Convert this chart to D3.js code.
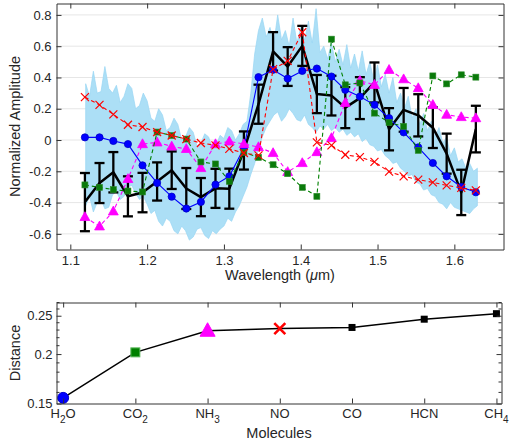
<!DOCTYPE html>
<html>
<head>
<meta charset="utf-8">
<script src="https://cdn.jsdelivr.net/npm/d3@7"></script>
<style>
  html, body { margin: 0; padding: 0; background: #fff; }
  svg { display: block; font-family: "Liberation Sans", Arial, Helvetica, sans-serif; }
</style>
</head>
<body>
<svg id="chart" width="510" height="443"></svg>
<script>
// ---- Spectrum data (top panel) ----
const wavelength = [1.119, 1.138, 1.156, 1.175, 1.194, 1.213, 1.232, 1.251, 1.270, 1.289,
  1.307, 1.326, 1.345, 1.364, 1.383, 1.402, 1.421, 1.440, 1.458, 1.477,
  1.496, 1.515, 1.534, 1.553, 1.572, 1.590, 1.609, 1.628];

const observed = [-0.397, -0.275, -0.206, -0.360, -0.336, -0.265, -0.193, -0.310, -0.365, -0.309,
  -0.311, -0.067, 0.229, 0.567, 0.470, 0.602, 0.294, 0.284, 0.207, 0.268,
  0.368, 0.069, 0.193, 0.158, 0.079, -0.087, -0.335, 0.070];
const observedErr = [0.186, 0.128, 0.129, 0.128, 0.126, 0.122, 0.120, 0.131, 0.122, 0.125,
  0.128, 0.122, 0.125, 0.123, 0.124, 0.128, 0.122, 0.127, 0.131, 0.134,
  0.128, 0.135, 0.140, 0.135, 0.130, 0.128, 0.145, 0.149];

const modelH2O = [0.017, 0.017, -0.006, -0.026, -0.162, -0.274, -0.362, -0.438, -0.396, -0.285,
  -0.232, -0.051, 0.402, 0.449, 0.393, 0.442, 0.457, 0.406, 0.321, 0.278,
  0.225, 0.140, 0.049, -0.047, -0.147, -0.232, -0.300, -0.334];
const modelNO = [0.274, 0.225, 0.164, 0.098, 0.083, 0.051, 0.029, 0.006, -0.019, -0.034,
  -0.057, -0.083, -0.098, 0.453, 0.506, 0.689, -0.015, -0.034, -0.094, -0.109,
  -0.140, -0.202, -0.232, -0.253, -0.271, -0.290, -0.306, -0.322];
const modelCO2 = [-0.287, -0.303, -0.317, -0.326, -0.332, 0.051, 0.029, 0.006, -0.140, -0.153,
  -0.264, -0.079, -0.111, -0.158, -0.215, -0.303, -0.360, 0.645, 0.353, 0.365,
  0.172, 0.112, 0.087, -0.066, 0.410, 0.359, 0.417, 0.402];
const modelNH3 = [-0.492, -0.552, -0.456, -0.249, -0.026, -0.015, -0.041, -0.057, -0.179, -0.026,
  -0.009, -0.026, -0.045, -0.083, -0.204, -0.147, -0.077, 0.013, 0.238, 0.379,
  0.353, 0.449, 0.389, 0.332, 0.225, 0.162, 0.147, 0.140];

// High-resolution spectrum envelope (upper / lower excursion at each sample)
const specWave = [1.120, 1.125, 1.130, 1.135, 1.140, 1.145, 1.150, 1.155, 1.160, 1.165,
  1.170, 1.175, 1.180, 1.185, 1.190, 1.195, 1.200, 1.205, 1.210, 1.215,
  1.220, 1.225, 1.230, 1.235, 1.240, 1.245, 1.250, 1.255, 1.260, 1.265,
  1.270, 1.275, 1.280, 1.285, 1.290, 1.295, 1.300, 1.305, 1.310, 1.315,
  1.320, 1.325, 1.330, 1.335, 1.340, 1.345, 1.350, 1.355, 1.360, 1.365,
  1.370, 1.375, 1.380, 1.385, 1.390, 1.395, 1.400, 1.405, 1.410, 1.415,
  1.420, 1.425, 1.430, 1.435, 1.440, 1.445, 1.450, 1.455, 1.460, 1.465,
  1.470, 1.475, 1.480, 1.485, 1.490, 1.495, 1.500, 1.505, 1.510, 1.515,
  1.520, 1.525, 1.530, 1.535, 1.540, 1.545, 1.550, 1.555, 1.560, 1.565,
  1.570, 1.575, 1.580, 1.585, 1.590, 1.595, 1.600, 1.605, 1.610, 1.615,
  1.620, 1.625, 1.630];
const specUpper = [0.36, 0.28, 0.44, 0.30, 0.31, 0.47, 0.33, 0.30, 0.35, 0.24,
  0.28, 0.36, 0.33, 0.20, 0.22, 0.30, 0.25, 0.14, 0.12, 0.20,
  0.16, 0.06, 0.08, 0.14, 0.10, 0.00, 0.02, 0.08, 0.05, -0.04,
  -0.02, 0.04, 0.02, -0.05, -0.03, 0.03, 0.01, 0.08, 0.06, 0.00,
  0.04, 0.10, 0.12, 0.30, 0.55, 0.70, 0.78, 0.66, 0.72, 0.62,
  0.80, 0.64, 0.70, 0.60, 0.78, 0.62, 0.72, 0.64, 0.76, 0.62,
  0.84, 0.56, 0.60, 0.52, 0.62, 0.50, 0.58, 0.48, 0.61, 0.46,
  0.55, 0.44, 0.57, 0.42, 0.50, 0.38, 0.48, 0.34, 0.42, 0.30,
  0.40, 0.24, 0.30, 0.20, 0.28, 0.14, 0.20, 0.10, 0.17, 0.06,
  0.12, 0.02, 0.08, -0.02, 0.02, -0.10, -0.05, -0.14, -0.12, -0.18,
  -0.15, -0.20, -0.18];
const specLower = [-0.42, -0.36, -0.46, -0.40, -0.38, -0.44, -0.43, -0.35, -0.33, -0.38,
  -0.36, -0.30, -0.29, -0.34, -0.38, -0.36, -0.41, -0.47, -0.45, -0.52,
  -0.55, -0.50, -0.52, -0.58, -0.60, -0.55, -0.58, -0.64, -0.62, -0.57,
  -0.56, -0.61, -0.63, -0.58, -0.60, -0.57, -0.55, -0.50, -0.52, -0.46,
  -0.42, -0.36, -0.30, -0.22, -0.15, -0.06, 0.02, 0.08, 0.12, 0.16,
  0.18, 0.12, 0.15, 0.20, 0.17, 0.13, 0.12, 0.16, 0.10, 0.08,
  0.05, 0.09, 0.07, 0.10, 0.06, 0.08, 0.05, 0.07, 0.03, 0.05,
  0.02, 0.04, -0.01, 0.01, -0.03, -0.04, -0.07, -0.06, -0.10, -0.12,
  -0.15, -0.14, -0.18, -0.20, -0.23, -0.22, -0.27, -0.28, -0.32, -0.31,
  -0.35, -0.36, -0.40, -0.41, -0.44, -0.40, -0.43, -0.44, -0.45, -0.46,
  -0.47, -0.44, -0.42];

const xTicksTop = [1.1, 1.2, 1.3, 1.4, 1.5, 1.6];
const yTicksTop = [-0.6, -0.4, -0.2, 0, 0.2, 0.4, 0.6, 0.8];

// ---- Distance data (bottom panel) ----
const molecules = ["H2O", "CO2", "NH3", "NO", "CO", "HCN", "CH4"];
const distance = [0.155, 0.202, 0.229, 0.232, 0.2335, 0.245, 0.253];
const yTicksBottom = [0.15, 0.2, 0.25];
const yMinorBottom = [0.16, 0.17, 0.18, 0.19, 0.21, 0.22, 0.23, 0.24, 0.26, 0.27];

// ---------------------------------------------------------------
const svg = d3.select("#chart");
const axisColor = "#333";
const textColor = "#262626";
const tickFont = 13;
const labelFont = 14.5;

// ================= TOP PANEL =================
const boxT = { left: 56.5, right: 503.5, top: 3.5, bottom: 249.5 };
const xT = d3.scaleLinear().domain([1.082, 1.664]).range([boxT.left, boxT.right]);
const yT = d3.scaleLinear().domain([-0.7, 0.873]).range([boxT.bottom, boxT.top]);

const gTop = svg.append("g");

// horizontal grid
gTop.append("g").selectAll("line").data(yTicksTop).join("line")
  .attr("x1", boxT.left).attr("x2", boxT.right)
  .attr("y1", d => yT(d)).attr("y2", d => yT(d))
  .attr("stroke", "#e6e6e6").attr("stroke-width", 1);

// spectrum envelope
const specData = specWave.map((w, i) => ({ w, hi: specUpper[i], lo: specLower[i] }));
gTop.append("path").datum(specData)
  .attr("d", d3.area().x(d => xT(d.w)).y0(d => yT(d.lo)).y1(d => yT(d.hi)))
  .attr("fill", "#acdff6").attr("stroke", "#98d6f3").attr("stroke-width", 0.7);

const lineGen = vals => d3.line().x((d, i) => xT(wavelength[i])).y(d => yT(d))(vals);

// observed with error bars
const gObs = gTop.append("g");
gObs.selectAll("line.eb").data(observed).join("line")
  .attr("x1", (d, i) => xT(wavelength[i])).attr("x2", (d, i) => xT(wavelength[i]))
  .attr("y1", (d, i) => yT(d - observedErr[i])).attr("y2", (d, i) => yT(d + observedErr[i]))
  .attr("stroke", "#000").attr("stroke-width", 2.3);
[-1, 1].forEach(s => {
  gObs.append("g").selectAll("line").data(observed).join("line")
    .attr("x1", (d, i) => xT(wavelength[i]) - 5).attr("x2", (d, i) => xT(wavelength[i]) + 5)
    .attr("y1", (d, i) => yT(d + s * observedErr[i])).attr("y2", (d, i) => yT(d + s * observedErr[i]))
    .attr("stroke", "#000").attr("stroke-width", 2.3);
});
gObs.append("path").attr("d", lineGen(observed))
  .attr("fill", "none").attr("stroke", "#000").attr("stroke-width", 2.5).attr("stroke-linejoin", "round");

// H2O model: solid blue with circles
gTop.append("path").attr("d", lineGen(modelH2O))
  .attr("fill", "none").attr("stroke", "#0000ff").attr("stroke-width", 1.1);
gTop.append("g").selectAll("circle").data(modelH2O).join("circle")
  .attr("cx", (d, i) => xT(wavelength[i])).attr("cy", d => yT(d)).attr("r", 3.6)
  .attr("fill", "#0000ff").attr("stroke", "#0000c8").attr("stroke-width", 0.8);

// NH3 model: dashed magenta with triangles
gTop.append("path").attr("d", lineGen(modelNH3))
  .attr("fill", "none").attr("stroke", "#ff00ff").attr("stroke-width", 1.1).attr("stroke-dasharray", "4,3");
const tri = (cx, cy, s) => `M${cx},${cy - s * 0.62}L${cx + s * 0.58},${cy + s * 0.42}L${cx - s * 0.58},${cy + s * 0.42}Z`;
gTop.append("g").selectAll("path").data(modelNH3).join("path")
  .attr("d", (d, i) => tri(xT(wavelength[i]), yT(d), 8.5))
  .attr("fill", "#ff00ff").attr("stroke", "#ff00ff").attr("stroke-width", 0.8);

// CO2 model: dashed green with squares
gTop.append("path").attr("d", lineGen(modelCO2))
  .attr("fill", "none").attr("stroke", "#008000").attr("stroke-width", 1.1).attr("stroke-dasharray", "4,3");
gTop.append("g").selectAll("rect").data(modelCO2).join("rect")
  .attr("x", (d, i) => xT(wavelength[i]) - 3).attr("y", d => yT(d) - 3)
  .attr("width", 6).attr("height", 6)
  .attr("fill", "#0a7a0a").attr("stroke", "#2e8b2e").attr("stroke-width", 0.6);

// NO model: dashed red with crosses
gTop.append("path").attr("d", lineGen(modelNO))
  .attr("fill", "none").attr("stroke", "#ff0000").attr("stroke-width", 1.1).attr("stroke-dasharray", "4,3");
const cross = (cx, cy, h) => `M${cx - h},${cy - h}L${cx + h},${cy + h}M${cx - h},${cy + h}L${cx + h},${cy - h}`;
gTop.append("g").selectAll("path").data(modelNO).join("path")
  .attr("d", (d, i) => cross(xT(wavelength[i]), yT(d), 4))
  .attr("fill", "none").attr("stroke", "#ff0000").attr("stroke-width", 1.2);

// axes (ticks pointing inward, boxed)
const fmtY = d => d === 0 ? "0" : (+d.toFixed(1)).toString();
function styleAxis(g) {
  g.select(".domain").attr("stroke", axisColor).attr("stroke-width", 1);
  g.selectAll(".tick line").attr("stroke", axisColor).attr("stroke-width", 1);
  g.selectAll(".tick text").attr("fill", textColor).attr("font-size", tickFont)
    .attr("font-family", "Liberation Sans, Arial, sans-serif");
}
gTop.append("g").attr("transform", `translate(0,${boxT.bottom})`)
  .call(d3.axisBottom(xT).tickValues(xTicksTop).tickFormat(d3.format(".1f")).tickSizeInner(-5).tickSizeOuter(0).tickPadding(6))
  .call(styleAxis);
gTop.append("g").attr("transform", `translate(0,${boxT.top})`)
  .call(d3.axisTop(xT).tickValues(xTicksTop).tickFormat("").tickSizeInner(-5).tickSizeOuter(0))
  .call(styleAxis);
gTop.append("g").attr("transform", `translate(${boxT.left},0)`)
  .call(d3.axisLeft(yT).tickValues(yTicksTop).tickFormat(fmtY).tickSizeInner(-5).tickSizeOuter(0).tickPadding(5))
  .call(styleAxis);
gTop.append("g").attr("transform", `translate(${boxT.right},0)`)
  .call(d3.axisRight(yT).tickValues(yTicksTop).tickFormat("").tickSizeInner(-5).tickSizeOuter(0))
  .call(styleAxis);

// axis titles
const xTitle = gTop.append("text")
  .attr("x", (boxT.left + boxT.right) / 2).attr("y", 280)
  .attr("text-anchor", "middle").attr("font-size", labelFont).attr("fill", textColor);
xTitle.append("tspan").text("Wavelength (");
xTitle.append("tspan").attr("font-style", "italic").text("\u03bc");
xTitle.append("tspan").text("m)");

gTop.append("text")
  .attr("transform", `translate(20,${(boxT.top + boxT.bottom) / 2}) rotate(-90)`)
  .attr("text-anchor", "middle").attr("font-size", labelFont).attr("fill", textColor)
  .text("Normalized Amplitude");

// ================= BOTTOM PANEL =================
const boxB = { left: 56.5, right: 501.5, top: 302.5, bottom: 403.5 };
const molIndex = molecules.map((m, i) => i + 1);
const xB = d3.scaleLinear().domain([0.908, 7.07]).range([boxB.left, boxB.right]);
const yB = d3.scaleLog().domain([0.15, 0.27]).range([boxB.bottom, boxB.top]);

const gBot = svg.append("g");

gBot.append("path")
  .attr("d", d3.line().x((d, i) => xB(molIndex[i])).y(d => yB(d))(distance))
  .attr("fill", "none").attr("stroke", "#000").attr("stroke-width", 1.5);

// markers for each molecule
const mk = gBot.append("g");
distance.forEach((d, i) => {
  const cx = xB(molIndex[i]), cy = yB(d);
  const name = molecules[i];
  if (name === "H2O") {
    mk.append("circle").attr("cx", cx).attr("cy", cy).attr("r", 5.5)
      .attr("fill", "#0000ff").attr("stroke", "#0000d0").attr("stroke-width", 1);
  } else if (name === "CO2") {
    mk.append("rect").attr("x", cx - 4.5).attr("y", cy - 4.5).attr("width", 9).attr("height", 9)
      .attr("fill", "#008000").attr("stroke", "#5cb85c").attr("stroke-width", 1);
  } else if (name === "NH3") {
    mk.append("path").attr("d", tri(cx, cy, 13)).attr("fill", "#ff00ff").attr("stroke", "#ff00ff");
  } else if (name === "NO") {
    mk.append("path").attr("d", cross(cx, cy, 5.5)).attr("fill", "none")
      .attr("stroke", "#ff0000").attr("stroke-width", 2.6);
  } else {
    mk.append("rect").attr("x", cx - 3.5).attr("y", cy - 3.5).attr("width", 7).attr("height", 7)
      .attr("fill", "#000");
  }
});

// bottom axes
gBot.append("g").attr("transform", `translate(0,${boxB.bottom})`)
  .call(d3.axisBottom(xB).tickValues(molIndex).tickFormat("").tickSizeInner(-5).tickSizeOuter(0))
  .call(styleAxis);
gBot.append("g").attr("transform", `translate(0,${boxB.top})`)
  .call(d3.axisTop(xB).tickValues(molIndex).tickFormat("").tickSizeInner(-5).tickSizeOuter(0))
  .call(styleAxis);

// molecule labels with subscripts
const labelG = gBot.append("g");
molecules.forEach((m, i) => {
  const t = labelG.append("text").attr("x", xB(molIndex[i])).attr("y", 418)
    .attr("text-anchor", "middle").attr("font-size", tickFont).attr("fill", textColor);
  const parts = m.match(/[A-Za-z]+|\d+/g);
  let sub = false;
  parts.forEach(p => {
    const isNum = /\d/.test(p);
    const ts = t.append("tspan").text(p);
    if (isNum) { ts.attr("dy", 5).attr("font-size", 10); sub = true; }
    else if (sub) { ts.attr("dy", -5); sub = false; }
  });
});

gBot.append("g").attr("transform", `translate(${boxB.left},0)`)
  .call(d3.axisLeft(yB).tickValues(yTicksBottom).tickFormat(d => (+d).toString()).tickSizeInner(-5).tickSizeOuter(0).tickPadding(4))
  .call(styleAxis);
gBot.append("g").attr("transform", `translate(${boxB.right},0)`)
  .call(d3.axisRight(yB).tickValues(yTicksBottom).tickFormat("").tickSizeInner(-5).tickSizeOuter(0))
  .call(styleAxis);
// minor log ticks
[boxB.left, boxB.right].forEach((x0, k) => {
  const dir = k === 0 ? 1 : -1;
  gBot.append("g").selectAll("line").data(yMinorBottom).join("line")
    .attr("x1", x0).attr("x2", x0 + dir * 3)
    .attr("y1", d => yB(d)).attr("y2", d => yB(d))
    .attr("stroke", axisColor).attr("stroke-width", 1);
});

gBot.append("text")
  .attr("x", (boxB.left + boxB.right) / 2).attr("y", 438)
  .attr("text-anchor", "middle").attr("font-size", labelFont).attr("fill", textColor)
  .text("Molecules");
gBot.append("text")
  .attr("transform", `translate(20,${(boxB.top + boxB.bottom) / 2}) rotate(-90)`)
  .attr("text-anchor", "middle").attr("font-size", labelFont).attr("fill", textColor)
  .text("Distance");
</script>
</body>
</html>
